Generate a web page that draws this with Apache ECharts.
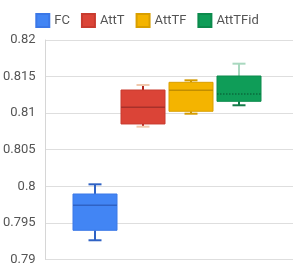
<!DOCTYPE html>
<html>
<head>
<meta charset="utf-8">
<script src="https://cdn.jsdelivr.net/npm/echarts@6/dist/echarts.min.js"></script>
<style>
html,body{margin:0;padding:0;background:#fff;}
#c{width:294px;height:266px;}
</style>
</head>
<body>
<div id="c"></div>
<script>
// ---- data ----
var categories = ['FC', 'AttT', 'AttTF', 'AttTFid'];
// [min, q1, median, q3, max]
var fcValues      = [0.79269, 0.79405, 0.79746, 0.79900, 0.80032];
var attTValues    = [0.80818, 0.80855, 0.81082, 0.81318, 0.81386];
var attTFValues   = [0.80995, 0.81028, 0.81314, 0.81423, 0.81450];
var attTFidValues = [0.81110, 0.81164, 0.81264, 0.81509, 0.81677];
var yTickLabels = ['0.79', '0.795', '0.8', '0.805', '0.81', '0.815', '0.82'];

// ---- styles ----
var styles = [
  {fill:'#4285F4', stroke:'#3b78e7', median:'#2f62c4', wUp:'#2f62c4', wDown:'#2f62c4', capUp:'#2f62c4', capDown:'#2f62c4', dotted:false},
  {fill:'#DB4437', stroke:'#c83b2f', median:'#a8302a', wUp:'#b3261e', wDown:'#b3261e', capUp:'#f1c8ac', capDown:'#f1c8ac', dotted:false},
  {fill:'#F4B400', stroke:'#d99f00', median:'#c28e00', wUp:'#c99300', wDown:'#c99300', capUp:'#d49b00', capDown:'#d49b00', dotted:false},
  {fill:'#0F9D58', stroke:'#0c8a4c', median:'#0a6b3c', wUp:'#a9d8bf', wDown:'#137a48', capUp:'#a9d8bf', capDown:'#137a48', dotted:true}
];
var seriesValues = [fcValues, attTValues, attTFValues, attTFidValues];

function makeRender(st) {
  return function (params, api) {
    var c = api.value(0);
    var cx = api.coord([c, 0.8])[0];
    function Y(v) { return api.coord([c, v])[1]; }
    var yMin = Y(api.value(1)), yQ1 = Y(api.value(2)), yMed = Y(api.value(3)), yQ3 = Y(api.value(4)), yMax = Y(api.value(5));
    var hw = 22, cw = 6.5;
    return {
      type: 'group',
      children: [
        {type:'line', shape:{x1:cx, y1:yMax, x2:cx, y2:yQ3}, style:{stroke:st.wUp, lineWidth:2}},
        {type:'line', shape:{x1:cx, y1:yQ1, x2:cx, y2:yMin}, style:{stroke:st.wDown, lineWidth:2}},
        {type:'line', shape:{x1:cx-cw, y1:yMax, x2:cx+cw, y2:yMax}, style:{stroke:st.capUp, lineWidth:2}},
        {type:'line', shape:{x1:cx-cw, y1:yMin, x2:cx+cw, y2:yMin}, style:{stroke:st.capDown, lineWidth:2}},
        {type:'rect', shape:{x:cx-hw, y:yQ3, width:2*hw, height:yQ1-yQ3}, style:{fill:st.fill, stroke:st.stroke, lineWidth:1}},
        {type:'line', shape:{x1:cx-hw, y1:yMed, x2:cx+hw, y2:yMed}, style:{stroke:st.median, lineWidth:1.5, lineDash: st.dotted ? [1.5,1.5] : null}}
      ]
    };
  };
}

var series = categories.map(function (name, i) {
  var v = seriesValues[i];
  return {
    name: name,
    type: 'custom',
    xAxisIndex: 1,
    yAxisIndex: 1,
    itemStyle: {color: styles[i].fill, borderColor: styles[i].stroke, borderWidth: 1},
    renderItem: makeRender(styles[i]),
    encode: {x: 0, y: [1, 2, 3, 4, 5]},
    data: [[i, v[0], v[1], v[2], v[3], v[4]]]
  };
});

var chart = echarts.init(document.getElementById('c'), null, {renderer: 'canvas'});
chart.setOption({
  animation: false,
  backgroundColor: '#fff',
  legend: {
    top: 8,
    left: 'center',
    icon: 'rect',
    itemWidth: 13,
    itemHeight: 13,
    itemGap: 11,
    textStyle: {fontFamily: 'Roboto', fontSize: 13, color: '#555'},
    data: categories
  },
  grid: [
    {left: 43, right: 1, top: 40, bottom: 6},
    {left: 71, width: 192, top: 40, bottom: 6}
  ],
  xAxis: [
    {type: 'category', gridIndex: 0, data: [''], show: false},
    {type: 'category', gridIndex: 1, data: categories, show: false}
  ],
  yAxis: [
    {
      type: 'value', gridIndex: 0, min: 0.79, max: 0.82, interval: 0.005,
      axisLine: {show: true, lineStyle: {color: '#d6d6d6'}},
      axisTick: {show: false},
      splitLine: {lineStyle: {color: '#dedede'}},
      axisLabel: {
        margin: 10, fontFamily: 'Roboto', fontSize: 13, color: '#555',
        formatter: function (val, idx) { return yTickLabels[idx]; }
      }
    },
    {type: 'value', gridIndex: 1, min: 0.79, max: 0.82, interval: 0.005, show: false, splitLine: {show: false}}
  ],
  series: series
});
</script>
</body>
</html>
